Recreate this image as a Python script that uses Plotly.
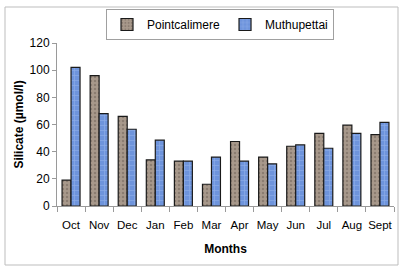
import plotly.graph_objects as go

months = ["Oct", "Nov", "Dec", "Jan", "Feb", "Mar", "Apr", "May", "Jun", "Jul", "Aug", "Sept"]
pointcalimere = [19, 96, 66, 34, 33, 16, 47.5, 36, 44, 53.5, 59.5, 52.5]
muthupettai = [102, 68, 56.5, 48.5, 33, 36, 33, 31, 45, 42.5, 53.5, 61.5]

fig = go.Figure()
fig.add_trace(go.Bar(
    x=months, y=pointcalimere, name="Pointcalimere",
    marker=dict(color="#a8998b", line=dict(color="#1a1a1a", width=1.2),
                pattern=dict(shape=".", fgcolor="#6e6055", size=4, solidity=0.3)),
))
fig.add_trace(go.Bar(
    x=months, y=muthupettai, name="Muthupettai",
    marker=dict(color="#6e94dc", line=dict(color="#1a1a1a", width=1.2),
                pattern=dict(shape="+", fgcolor="#a9c3f0", size=5, solidity=0.25)),
))

L, R, T, B = 57, 12, 43, 71
W, H = 406, 277
pw, ph = W - L - R, H - T - B

def px(x):
    return (x - L) / pw

def py(y):
    return (H - B - y) / ph

fig.add_shape(type="rect", xref="paper", yref="paper",
              x0=px(5), x1=px(398), y0=py(265), y1=py(7),
              line=dict(color="#bdbdbd", width=1), layer="below")

fig.update_layout(
    width=W, height=H,
    margin=dict(l=L, r=R, t=T, b=B, autoexpand=False),
    paper_bgcolor="white", plot_bgcolor="white",
    barmode="group", bargap=0.36, bargroupgap=0,
    font=dict(family="Liberation Sans, Arial, sans-serif", size=12, color="#000"),
    showlegend=True,
    legend=dict(orientation="h", x=px(220), xanchor="center", y=py(9), yanchor="top",
                bordercolor="#a0a0a0", borderwidth=1, bgcolor="white",
                font=dict(size=12), itemwidth=30, tracegroupgap=0),
    xaxis=dict(
        title=dict(text="<b>Months</b>", font=dict(size=12), standoff=14),
        showline=True, linecolor="#9a9a9a", linewidth=1,
        ticks="outside", tickson="boundaries", ticklen=5, tickcolor="#9a9a9a",
        tickfont=dict(size=11.5), tickangle=0, ticklabelstandoff=8,
        showgrid=False, automargin=False,
    ),
    yaxis=dict(
        title=dict(text="<b>Silicate (µmol/l)</b>", font=dict(size=12), standoff=3),
        range=[0, 120], dtick=20,
        showline=True, linecolor="#9a9a9a", linewidth=1,
        ticks="outside", ticklen=4, tickcolor="#9a9a9a",
        tickfont=dict(size=12), showgrid=False, zeroline=False, automargin=False,
    ),
)

fig.write_html("out.html", config={"displayModeBar": False},
               post_script="document.body.style.margin='0';document.body.style.overflow='hidden';")
